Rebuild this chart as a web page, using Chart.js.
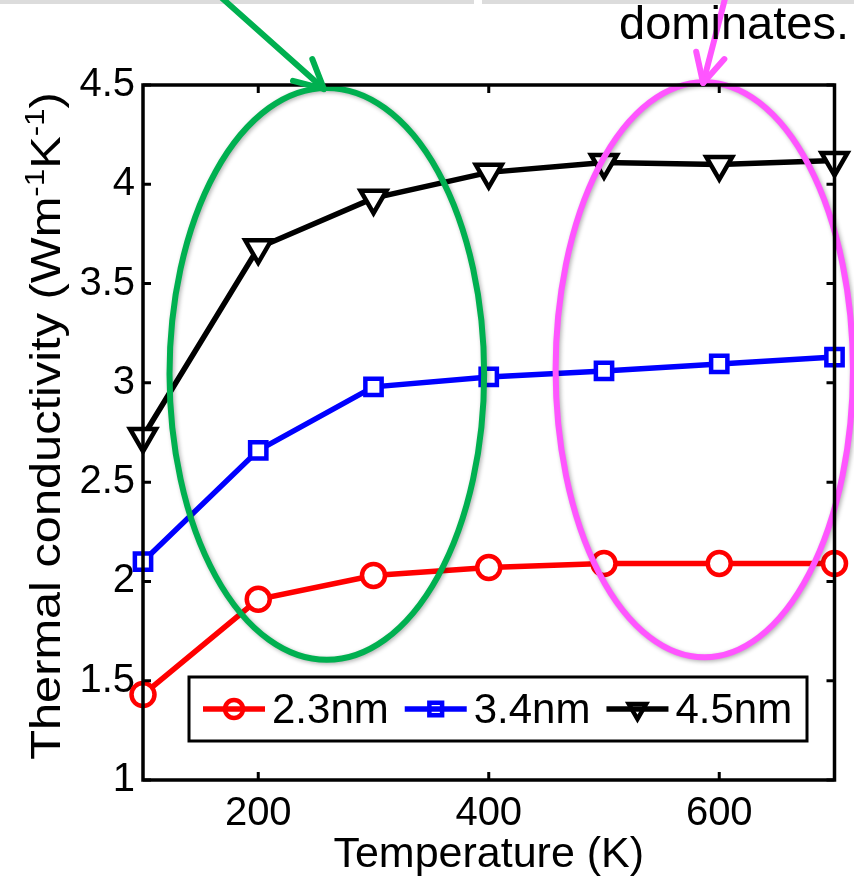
<!DOCTYPE html>
<html>
<head>
<meta charset="utf-8">
<style>
html,body{margin:0;padding:0;background:#fff;}
canvas{display:block;}
</style>
<script src="https://cdn.jsdelivr.net/npm/chart.js@4"></script>
</head>
<body>
<canvas id="c" width="854" height="879"></canvas>
<script>
// ---- data ----
const temps = [100, 200, 300, 400, 500, 600, 700];
const k23 = [1.43, 1.91, 2.03, 2.07, 2.09, 2.09, 2.09];
const k34 = [2.10, 2.66, 2.98, 3.03, 3.06, 3.095, 3.13];
const k45 = [2.73, 3.68, 3.93, 4.06, 4.11, 4.10, 4.12];
const seriesLabels = ['2.3nm', '3.4nm', '4.5nm'];
const xTicks = [200, 400, 600];
const yTicks = [1, 1.5, 2, 2.5, 3, 3.5, 4, 4.5];
const xTitle = 'Temperature (K)';
const yTitleParts = [['Thermal conductivity (Wm', false], ['-1', true], ['K', false], ['-1', true], [')', false]];
const noteText = 'dominates.';
// annotation ellipses in data units: [centerT, centerK, radiusT, radiusK, colour]
const ellipses = [
  [259.5, 3.045, 136.5, 1.44, '#00b050'],
  [587, 3.066, 129, 1.448, '#ff55ff']
];
// arrows in data units: [fromT, fromK, toT, toK, colour]
const arrows = [
  [169, 4.935, 257, 4.48, '#00b050'],
  [605, 4.935, 586, 4.51, '#ff55ff']
];

const FONT = "'Liberation Sans', Arial, sans-serif";

function pts(vals) { return temps.map((t, i) => ({x: t, y: vals[i]})); }

function drawArrow(ctx, x1, y1, x2, y2, color) {
  ctx.save();
  ctx.strokeStyle = color; ctx.lineWidth = 6; ctx.lineCap = 'round'; ctx.lineJoin = 'round';
  ctx.beginPath(); ctx.moveTo(x1, y1); ctx.lineTo(x2, y2); ctx.stroke();
  const a = Math.atan2(y1 - y2, x1 - x2);
  const L = 32, d = 27 * Math.PI / 180;
  ctx.beginPath();
  ctx.moveTo(x2 + L * Math.cos(a - d), y2 + L * Math.sin(a - d));
  ctx.lineTo(x2, y2);
  ctx.lineTo(x2 + L * Math.cos(a + d), y2 + L * Math.sin(a + d));
  ctx.stroke();
  ctx.restore();
}

function drawMarker(ctx, style, x, y, r, color, lw) {
  ctx.save();
  ctx.strokeStyle = color; ctx.lineWidth = lw;
  ctx.beginPath();
  if (style === 'circle') {
    ctx.arc(x, y, r, 0, Math.PI * 2);
  } else if (style === 'rect') {
    const s = r * Math.SQRT1_2;
    ctx.rect(x - s, y - s, 2 * s, 2 * s);
  } else {
    ctx.moveTo(x - r * 0.866, y - r * 0.5);
    ctx.lineTo(x + r * 0.866, y - r * 0.5);
    ctx.lineTo(x, y + r);
    ctx.closePath();
  }
  ctx.stroke();
  ctx.restore();
}

const deco = {
  id: 'deco',
  beforeDraw(chart) {
    const ctx = chart.ctx;
    ctx.save();
    ctx.fillStyle = '#fff';
    ctx.fillRect(0, 0, chart.width, chart.height);
    ctx.fillStyle = '#dcdcdc';
    ctx.fillRect(0, 0, 474, 4);
    ctx.fillRect(482, 0, chart.width - 482, 4);
    ctx.restore();
  },
  afterDatasetsDraw(chart) {
    const ctx = chart.ctx;
    const xs = chart.scales.x, ys = chart.scales.y;
    const a = chart.chartArea;

    // ellipses
    ellipses.forEach(([cx, cy, rx, ry, col]) => {
      const px = xs.getPixelForValue(cx), py = ys.getPixelForValue(cy);
      const prx = Math.abs(xs.getPixelForValue(cx + rx) - px);
      const pry = Math.abs(ys.getPixelForValue(cy + ry) - py);
      ctx.save();
      ctx.shadowColor = 'rgba(0,0,0,0.3)'; ctx.shadowBlur = 4; ctx.shadowOffsetX = 1.5; ctx.shadowOffsetY = 1.5;
      ctx.strokeStyle = col; ctx.lineWidth = 6;
      ctx.beginPath(); ctx.ellipse(px, py, prx, pry, 0, 0, Math.PI * 2); ctx.stroke();
      ctx.restore();
    });

    // frame
    ctx.save();
    ctx.strokeStyle = '#000'; ctx.lineWidth = 3.5;
    ctx.strokeRect(a.left, a.top, a.right - a.left, a.bottom - a.top);
    ctx.lineWidth = 3;
    ctx.beginPath();
    xTicks.forEach(v => {
      const p = xs.getPixelForValue(v);
      ctx.moveTo(p, a.bottom); ctx.lineTo(p, a.bottom - 8);
      ctx.moveTo(p, a.top); ctx.lineTo(p, a.top + 8);
    });
    yTicks.forEach(v => {
      const p = ys.getPixelForValue(v);
      ctx.moveTo(a.left, p); ctx.lineTo(a.left + 8, p);
      ctx.moveTo(a.right, p); ctx.lineTo(a.right - 8, p);
    });
    ctx.stroke();
    ctx.restore();

    // arrows
    arrows.forEach(([x1, y1, x2, y2, col]) => {
      drawArrow(ctx, xs.getPixelForValue(x1), ys.getPixelForValue(y1), xs.getPixelForValue(x2), ys.getPixelForValue(y2), col);
    });

    // text note
    ctx.save();
    ctx.fillStyle = '#000';
    ctx.font = '47px ' + FONT;
    ctx.textAlign = 'right'; ctx.textBaseline = 'alphabetic';
    ctx.fillText(noteText, 849, 39);
    ctx.restore();

    // x title
    ctx.save();
    ctx.fillStyle = '#000';
    ctx.font = '43px ' + FONT;
    ctx.textAlign = 'center'; ctx.textBaseline = 'alphabetic';
    ctx.fillText(xTitle, (a.left + a.right) / 2, 867);
    ctx.restore();

    // y title with superscripts
    ctx.save();
    ctx.translate(60, 426);
    ctx.rotate(-Math.PI / 2);
    ctx.scale(1.16, 1);
    ctx.fillStyle = '#000';
    const fs = 42, ss = 27;
    let total = 0;
    yTitleParts.forEach(([t, sup]) => { ctx.font = (sup ? ss : fs) + 'px ' + FONT; total += ctx.measureText(t).width; });
    let x = -total / 2;
    ctx.textAlign = 'left'; ctx.textBaseline = 'alphabetic';
    yTitleParts.forEach(([t, sup]) => {
      ctx.font = (sup ? ss : fs) + 'px ' + FONT;
      ctx.fillText(t, x, sup ? -16 : 0);
      x += ctx.measureText(t).width;
    });
    ctx.restore();

    // legend
    const lx0 = 189, ly0 = 677, lx1 = 807, ly1 = 741;
    ctx.save();
    ctx.fillStyle = '#fff';
    ctx.fillRect(lx0, ly0, lx1 - lx0, ly1 - ly0);
    ctx.strokeStyle = '#000'; ctx.lineWidth = 3;
    ctx.strokeRect(lx0, ly0, lx1 - lx0, ly1 - ly0);
    ctx.font = '42px ' + FONT;
    ctx.textBaseline = 'middle'; ctx.textAlign = 'left';
    let cx = lx0 + 14;
    const cy = (ly0 + ly1) / 2;
    chart.data.datasets.forEach(ds => {
      ctx.strokeStyle = ds.borderColor; ctx.lineWidth = 5.5;
      ctx.beginPath(); ctx.moveTo(cx, cy); ctx.lineTo(cx + 62, cy); ctx.stroke();
      drawMarker(ctx, ds.pointStyle, cx + 31, cy, ds.pointStyle === 'triangle' ? 10 : 9, ds.borderColor, 4.5);
      ctx.fillStyle = '#000';
      ctx.fillText(ds.label, cx + 69, cy + 2);
      cx += 69 + ctx.measureText(ds.label).width + 16;
    });
    ctx.restore();
  }
};

new Chart(document.getElementById('c').getContext('2d'), {
  type: 'line',
  data: {
    datasets: [
      {label: seriesLabels[0], data: pts(k23), borderColor: '#ff0000', backgroundColor: '#ff0000', borderWidth: 5.5,
       pointStyle: 'circle', pointRadius: 11.5, pointBorderWidth: 4.5, pointBackgroundColor: '#fff', pointBorderColor: '#ff0000', clip: false},
      {label: seriesLabels[1], data: pts(k34), borderColor: '#0000ff', backgroundColor: '#0000ff', borderWidth: 5.5,
       pointStyle: 'rect', pointRadius: 11.5, pointBorderWidth: 4.5, pointBackgroundColor: '#fff', pointBorderColor: '#0000ff', clip: false},
      {label: seriesLabels[2], data: pts(k45), borderColor: '#000000', backgroundColor: '#000000', borderWidth: 5.5,
       pointStyle: 'triangle', pointRotation: 180, pointRadius: 15, pointBorderWidth: 4.5, pointBackgroundColor: '#fff', pointBorderColor: '#000000', clip: false}
    ]
  },
  options: {
    responsive: false,
    animation: false,
    layout: {padding: {top: 85, right: 16, left: 0, bottom: 0}},
    plugins: {legend: {display: false}, tooltip: {enabled: false}},
    elements: {line: {tension: 0}},
    scales: {
      x: {
        type: 'linear', min: 100, max: 700,
        afterBuildTicks: s => { s.ticks = xTicks.map(v => ({value: v})); },
        afterFit: s => { s.height = 99; },
        grid: {display: false, drawTicks: false},
        border: {display: false},
        ticks: {font: {family: FONT, size: 40}, color: '#000', padding: 10, maxRotation: 0, autoSkip: false}
      },
      y: {
        type: 'linear', min: 1, max: 4.5,
        afterBuildTicks: s => { s.ticks = yTicks.map(v => ({value: v})); },
        afterFit: s => { s.width = 143; },
        grid: {display: false, drawTicks: false},
        border: {display: false},
        ticks: {font: {family: FONT, size: 40}, color: '#000', padding: 8, autoSkip: false, callback: v => String(v)}
      }
    }
  },
  plugins: [deco]
});
</script>
</body>
</html>
